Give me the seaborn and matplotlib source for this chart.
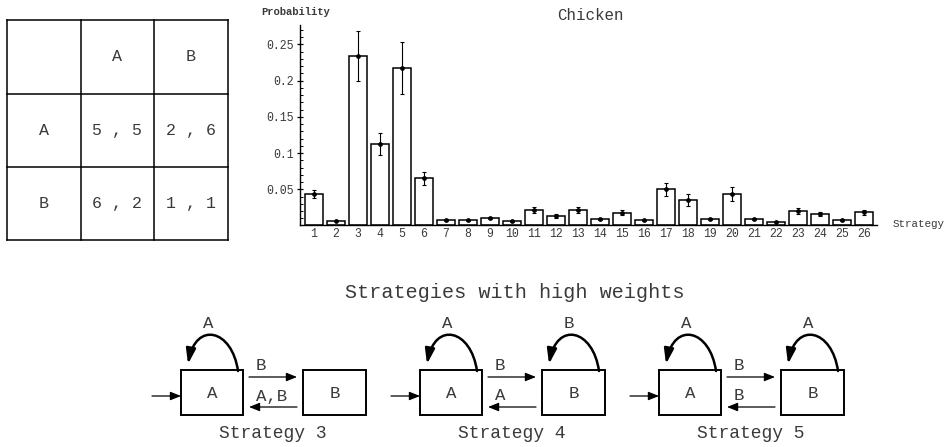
import numpy as np
import pandas as pd
import matplotlib
matplotlib.use("Agg")
import matplotlib.pyplot as plt
import seaborn as sns
from matplotlib.patches import Rectangle, FancyArrowPatch
from matplotlib.path import Path
from matplotlib.ticker import FixedLocator, MultipleLocator

# ---- bar chart data -------------------------------------------------------
strategies = [str(i) for i in range(1, 27)]
probability = [0.043, 0.0066, 0.2345, 0.112, 0.2175, 0.065, 0.0076, 0.007, 0.0099, 0.006,
               0.021, 0.0127, 0.021, 0.009, 0.0177, 0.0072, 0.050, 0.035, 0.0085, 0.0434,
               0.009, 0.0053, 0.0196, 0.0159, 0.0071, 0.018]
errors = [0.0055, 0.001, 0.0345, 0.015, 0.0355, 0.0085, 0.0012, 0.001, 0.0015, 0.001,
          0.0044, 0.0025, 0.0042, 0.0012, 0.003, 0.001, 0.009, 0.008, 0.0012, 0.0094,
          0.0012, 0.001, 0.004, 0.003, 0.0012, 0.004]
ytick_values = [0.05, 0.1, 0.15, 0.2, 0.25]
ytick_labels = ["0.05", "0.1", "0.15", "0.2", "0.25"]

# ---- payoff matrix (row player, column player) ----------------------------
actions = ["A", "B"]
payoff_row = [[5, 2], [6, 1]]
payoff_col = [[5, 6], [2, 1]]

# ---- automata ---------------------------------------------------------------
automaton_names = ["Strategy 3", "Strategy 4", "Strategy 5"]
loop_on_A = ["A", "A", "A"]
loop_on_B = [None, "B", "A"]
edge_A_to_B = ["B", "B", "B"]
edge_B_to_A = ["A,B", "A", "B"]

MONO = "Liberation Mono"
TXT = "#3a3a3a"

sns.set_theme(style="white")
plt.rcParams["font.family"] = [MONO, "DejaVu Sans"]

fig = plt.figure(figsize=(9.5, 4.47), dpi=100)
W, H = 950, 447

# canvas in pixel coordinates for the table and the automata
canvas = fig.add_axes([0, 0, 1, 1])
canvas.set_xlim(0, W)
canvas.set_ylim(H, 0)
canvas.axis("off")

# ---------------------------------------------------------------------------
# bar chart
# ---------------------------------------------------------------------------
ax_left, ax_right, ax_top, ax_bottom = 300, 877, 25, 225.5
ax = fig.add_axes([ax_left / W, 1 - ax_bottom / H,
                   (ax_right - ax_left) / W, (ax_bottom - ax_top) / H])
ax.patch.set_alpha(0)
df = pd.DataFrame({"strategy": strategies, "probability": probability})
sns.barplot(data=df, x="strategy", y="probability", order=strategies, ax=ax,
            color="white", edgecolor="black", linewidth=1.1, width=0.83,
            errorbar=None, saturation=1)
ax.errorbar(np.arange(len(strategies)), probability, yerr=errors, fmt="o",
            ms=2.4, color="black", ecolor="black", elinewidth=0.8,
            capsize=1.7, capthick=0.8, zorder=5)
ax.set_xlim(-0.636, 25.59)
ax.set_ylim(0, 0.2766)
for s in ("top", "right"):
    ax.spines[s].set_visible(False)
for s in ("left", "bottom"):
    ax.spines[s].set_color("black")
    ax.spines[s].set_linewidth(1.0)
ax.yaxis.set_major_locator(FixedLocator(ytick_values))
ax.set_yticklabels(ytick_labels)
ax.yaxis.set_minor_locator(MultipleLocator(0.01))
ax.tick_params(axis="y", which="major", direction="inout", length=5, width=0.9,
               pad=2, labelsize=8.3, labelcolor=TXT, left=True, color="black")
ax.tick_params(axis="y", which="minor", direction="in", length=2.5, width=0.7,
               left=True, color="black")
ax.tick_params(axis="x", length=0, pad=2, labelsize=8.3, labelcolor=TXT)
ax.set_xlabel("")
ax.set_ylabel("")
ax.grid(False)

canvas.text(296, 12, "Probability", fontsize=7.6, fontweight="bold",
            color=TXT, ha="center", va="center")
canvas.text(590, 16, "Chicken", fontsize=11.4, color=TXT, ha="center", va="center")
canvas.text(919, 224, "Strategy", fontsize=7.8, color=TXT, ha="center", va="center")

# ---------------------------------------------------------------------------
# payoff table
# ---------------------------------------------------------------------------
tx = [7, 80.5, 154, 228]
ty = [20, 93.5, 167, 240]
for x in tx:
    canvas.plot([x, x], [ty[0], ty[-1]], color="black", lw=1.1, solid_capstyle="projecting")
for y in ty:
    canvas.plot([tx[0], tx[-1]], [y, y], color="black", lw=1.1, solid_capstyle="projecting")


def cell_center(i, j):
    return (tx[j] + tx[j + 1]) / 2, (ty[i] + ty[i + 1]) / 2


for k, a in enumerate(actions):
    cx, cy = cell_center(0, k + 1)
    canvas.text(cx, cy, a, fontsize=12, color=TXT, ha="center", va="center")
    cx, cy = cell_center(k + 1, 0)
    canvas.text(cx, cy, a, fontsize=12, color=TXT, ha="center", va="center")
for i in range(2):
    for j in range(2):
        cx, cy = cell_center(i + 1, j + 1)
        canvas.text(cx, cy, f"{payoff_row[i][j]} , {payoff_col[i][j]}",
                    fontsize=12, color=TXT, ha="center", va="center")

# ---------------------------------------------------------------------------
# automata
# ---------------------------------------------------------------------------
canvas.text(515, 292, "Strategies with high weights", fontsize=14.5, color=TXT,
            ha="center", va="center")

box_top, box_bot = 370, 415
lbl_size = 12.5


def straight_arrow(x1, x2, y):
    canvas.add_patch(FancyArrowPatch((x1, y), (x2, y), arrowstyle="-|>,head_length=4,head_width=1.6",
                                     mutation_scale=1.6, color="black", lw=0.9,
                                     shrinkA=0, shrinkB=0))


def self_loop(xl, label):
    verts = [(xl + 57, box_top + 1), (xl + 51, 329), (xl + 15, 321), (xl + 7, 364)]
    path = Path(verts, [Path.MOVETO, Path.CURVE4, Path.CURVE4, Path.CURVE4])
    canvas.add_patch(FancyArrowPatch(path=path, arrowstyle="-|>,head_length=5,head_width=1.6",
                                     mutation_scale=1.8, color="black", lw=1.8,
                                     shrinkA=0, shrinkB=0))
    canvas.text(xl + 27, 323, label, fontsize=lbl_size, color=TXT, ha="center", va="center")


for k, name in enumerate(automaton_names):
    x0 = 152 + 239 * k
    ax_l, ax_r = x0 + 29, x0 + 91
    bx_l, bx_r = x0 + 151, x0 + 214
    for l, r, st in ((ax_l, ax_r, "A"), (bx_l, bx_r, "B")):
        canvas.add_patch(Rectangle((l, box_top), r - l, box_bot - box_top,
                                   fill=False, edgecolor="black", lw=1.4))
        canvas.text((l + r) / 2, (box_top + box_bot) / 2 + 1, st, fontsize=lbl_size,
                    color=TXT, ha="center", va="center")
    # initial state
    straight_arrow(x0, ax_l, 396)
    # transitions between the states
    straight_arrow(x0 + 97, x0 + 145, 377)
    straight_arrow(x0 + 145, x0 + 97, 407)
    canvas.text(x0 + 104, 366, edge_A_to_B[k], fontsize=lbl_size, color=TXT,
                ha="left", va="center")
    canvas.text(x0 + 104, 396, edge_B_to_A[k], fontsize=lbl_size, color=TXT,
                ha="left", va="center")
    self_loop(ax_l, loop_on_A[k])
    if loop_on_B[k] is not None:
        self_loop(bx_l, loop_on_B[k])
    canvas.text((x0 + 29 + x0 + 214) / 2 - 1, 433, name, fontsize=13, color=TXT,
                ha="center", va="center")

fig.savefig("out.png", dpi=100)
